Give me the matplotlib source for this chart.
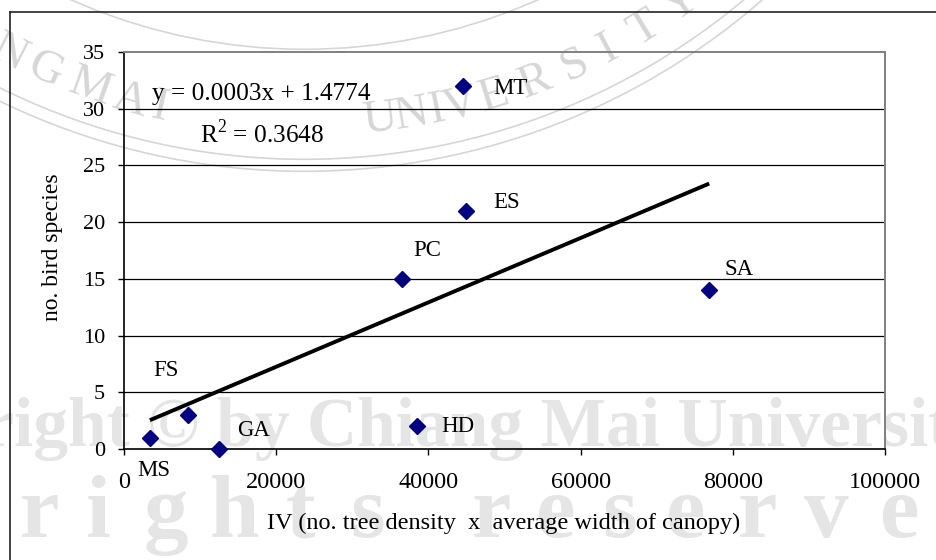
import numpy as np
import matplotlib
matplotlib.use("Agg")
import matplotlib.pyplot as plt
from matplotlib.lines import Line2D
from matplotlib.patches import Circle
from matplotlib.transforms import IdentityTransform

# site codes and values
sites = ["MS", "FS", "GA", "PC", "HD", "MT", "ES", "SA"]
iv_values = [3400, 8400, 12500, 36500, 38500, 44600, 44900, 76900]
bird_species = [1, 3, 0, 15, 2, 32, 21, 14]

x_ticks = [0, 20000, 40000, 60000, 80000, 100000]
y_ticks = [0, 5, 10, 15, 20, 25, 30, 35]

eq_text = "y = 0.0003x + 1.4774"
r2_text = "R$^2$ = 0.3648"
x_title = "IV (no. tree density  x  average width of canopy)"
y_title = "no. bird species"

wm_line1 = "Copyright \u00a9 by Chiang Mai University"
wm_line2 = "All rights reserved"
seal_text = "CHIANG MAI UNIVERSITY"

plt.rcParams["font.family"] = ["Liberation Serif", "DejaVu Serif"]
plt.rcParams["mathtext.fontset"] = "custom"
plt.rcParams["mathtext.rm"] = "Liberation Serif"

W, H = 937, 560
fig = plt.figure(figsize=(W / 100, H / 100), dpi=100)


def fx(px):
    return px / W


def fy(py):
    return 1 - py / H


# ---- faint watermark behind the chart ----
wm_color = "#e5e5e5"
fig.text(fx(-175), fy(446), wm_line1, color=wm_color, fontsize=50, fontweight="bold",
         va="baseline", ha="left", zorder=-2)
letter_x = [-250, -185, -125, 39, 98, 166, 235, 300, 368, 491, 556, 620, 686, 757, 826, 900, 975]
letters = [c for c in wm_line2 if c != " "]
for c, px in zip(letters, letter_x):
    fig.text(fx(px), fy(537), c, color=wm_color, fontsize=64, fontweight="bold",
             va="baseline", ha="center", zorder=-2)

# seal: rings and curved lettering (pixel geometry, y measured downward)
seal_cx, seal_cy = 304.5, -525.7
seal_color = "#d6d6d6"
for r in (575, 685, 697):
    fig.add_artist(Circle((seal_cx, H - seal_cy), r, transform=IdentityTransform(),
                          fill=False, ec=seal_color, lw=1.2, zorder=-2))
seal_angles = [-38, -35, -32, -30, -27, -23.5, None, -19.3, -15.6, -12.9, None,
               6.7, 9.5, 11.7, 13.9, 17, 20.8, 24.6, 27.8, 31.5, 35.5]
for c, ang in zip(seal_text, seal_angles):
    if ang is None:
        continue
    t = np.radians(ang)
    px = seal_cx + 650 * np.sin(t)
    py = seal_cy + 650 * np.cos(t)
    fig.text(fx(px), fy(py), c, color=seal_color, fontsize=34, rotation=ang,
             rotation_mode="anchor", ha="center", va="center", zorder=-2)

# outer chart frame (only top and left visible)
fig.add_artist(Line2D([fx(10), 1], [fy(12), fy(12)], color="#222222", lw=1.2))
fig.add_artist(Line2D([fx(10), fx(10)], [0, fy(12)], color="#222222", lw=1.2))

# ---- chart ----
ax = fig.add_axes([fx(124), fy(449), fx(885) - fx(124), fy(52) - fy(449)])
ax.patch.set_alpha(0)

ax.set_xlim(0, 100000)
ax.set_ylim(0, 35)
ax.set_xticks(x_ticks)
ax.set_yticks(y_ticks)
ax.tick_params(direction="out", length=4.5, width=1, colors="black")
ax.tick_params(axis="x", labelsize=17.5, pad=12)
ax.tick_params(axis="y", labelsize=16, pad=9)

for v in y_ticks[1:-1]:
    ax.axhline(v, color="black", lw=0.9, zorder=1)

for side in ("left", "bottom"):
    ax.spines[side].set_color("black")
    ax.spines[side].set_linewidth(1.2)
for side in ("top", "right"):
    ax.spines[side].set_color("#808080")
    ax.spines[side].set_linewidth(1.4)

# linear trendline
x = np.array(iv_values, dtype=float)
y = np.array(bird_species, dtype=float)
slope, intercept = np.polyfit(x, y, 1)
xs = np.array([x.min(), x.max()])
ax.plot(xs, slope * xs + intercept, color="black", lw=2.8, zorder=3, solid_capstyle="butt")

ax.plot(x, y, linestyle="none", marker="D", markersize=8, color="#000080", zorder=4, clip_on=False)

# label offsets in pixels from each point
label_offsets = {
    "MS": (-13, -33), "FS": (-35, 44), "GA": (18, 19), "PC": (12, 28),
    "HD": (24, 0), "MT": (30, -2), "ES": (28, 8), "SA": (15, 21),
}
for name, xv, yv in zip(sites, iv_values, bird_species):
    ax.annotate(name, (xv, yv), xytext=label_offsets[name], textcoords="offset pixels",
                ha="left", va="center", fontsize=16.5, zorder=5, annotation_clip=False)

fig.text(fx(152), fy(100), eq_text, fontsize=18.2, ha="left", va="baseline")
fig.text(fx(200), fy(143), r2_text, fontsize=18.2, ha="left", va="baseline")

fig.text(fx(53), fy(247), y_title, fontsize=17, rotation=90, ha="center", va="center")
fig.text(fx(504), fy(523), x_title, fontsize=17.5, ha="center", va="center")

fig.savefig("out.png", dpi=100, facecolor="white")
